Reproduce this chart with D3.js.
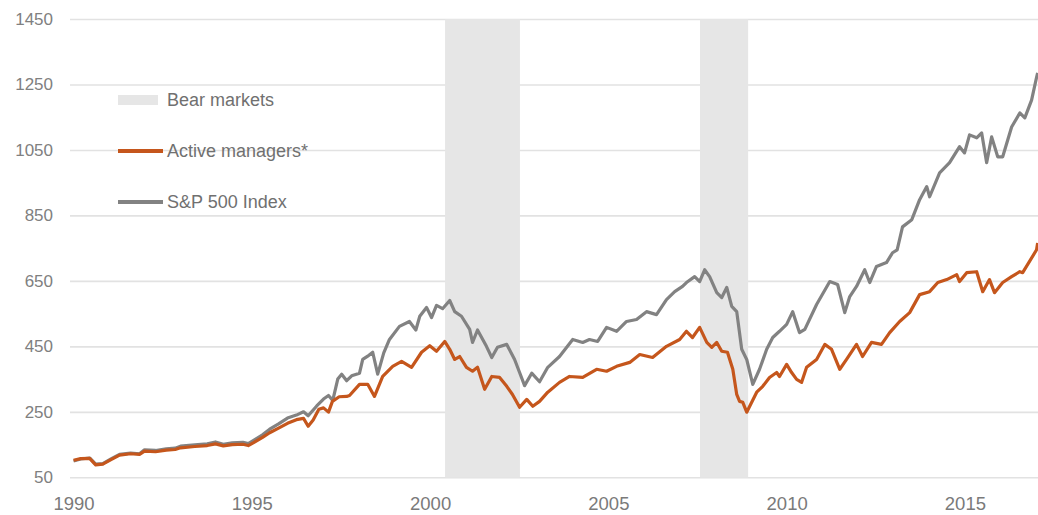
<!DOCTYPE html>
<html>
<head>
    <meta charset="utf-8">
    <title>Active managers vs S&amp;P 500</title>
    <script src="https://d3js.org/d3.v7.min.js"></script>
    <style>
        body { margin: 0; background: #fff; }
        #chart text { font-family: "Liberation Sans", Arial, sans-serif; }
        .grid line { stroke: #e2e2e2; stroke-width: 1.6; }
        .grid text { fill: #808080; font-size: 17px; }
        .xaxis text { fill: #7a7a7a; font-size: 18.5px; }
        .legend text { fill: #707070; font-size: 18px; }
    </style>
</head>
<body>
    <div id="chart"></div>

    <script>
        // Chart data
        const yTicks = [50, 250, 450, 650, 850, 1050, 1250, 1450];
        const xTicks = [1990, 1995, 2000, 2005, 2010, 2015];
        const bearMarkets = [[2000.42, 2002.52], [2007.57, 2008.92]];
        const legendLabels = ["Bear markets", "Active managers*", "S&P 500 Index"];

        // [decimal year, value]
        const sp500 = [
            [1990.00,100],[1990.20,106],[1990.45,109],[1990.62,90],[1990.82,92],[1991.05,106],[1991.29,120],
            [1991.60,124],[1991.85,122],[1991.99,134],[1992.30,132],[1992.60,137],[1992.85,139],[1993.00,145],
            [1993.40,149],[1993.75,152],[1993.98,158],[1994.20,151],[1994.45,155],[1994.75,157],[1994.90,153],
            [1995.05,163],[1995.30,180],[1995.50,197],[1995.75,213],[1996.00,231],[1996.25,240],[1996.45,250],
            [1996.58,238],[1996.82,268],[1997.01,289],[1997.15,300],[1997.27,285],[1997.41,350],[1997.52,365],
            [1997.66,345],[1997.80,360],[1998.02,368],[1998.11,410],[1998.25,420],[1998.39,432],[1998.53,365],
            [1998.70,430],[1998.86,471],[1999.14,511],[1999.42,526],[1999.60,500],[1999.71,542],[1999.90,569],
            [2000.04,538],[2000.18,575],[2000.35,565],[2000.55,590],[2000.69,556],[2000.88,542],[2001.11,502],
            [2001.19,462],[2001.33,500],[2001.58,450],[2001.73,416],[2001.89,447],[2002.15,456],[2002.37,410],
            [2002.51,370],[2002.65,330],[2002.85,368],[2003.07,342],[2003.30,386],[2003.63,419],[2004.00,471],
            [2004.28,462],[2004.47,471],[2004.70,465],[2004.95,508],[2005.23,496],[2005.51,526],[2005.79,532],
            [2006.07,556],[2006.35,547],[2006.63,593],[2006.86,617],[2007.08,633],[2007.19,645],[2007.42,663],
            [2007.56,648],[2007.70,684],[2007.84,663],[2008.04,614],[2008.18,599],[2008.32,630],[2008.46,572],
            [2008.60,556],[2008.74,441],[2008.88,410],[2009.05,334],[2009.24,380],[2009.44,441],[2009.61,477],
            [2009.80,496],[2010.00,517],[2010.17,556],[2010.36,492],[2010.51,502],[2010.84,578],[2011.21,648],
            [2011.43,639],[2011.63,553],[2011.77,602],[2011.96,633],[2012.19,684],[2012.33,645],[2012.52,694],
            [2012.80,706],[2012.97,736],[2013.10,745],[2013.25,815],[2013.51,837],[2013.73,898],[2013.93,938],
            [2014.01,907],[2014.29,980],[2014.57,1011],[2014.85,1060],[2014.99,1041],[2015.13,1096],[2015.33,1087],
            [2015.47,1102],[2015.61,1011],[2015.75,1090],[2015.92,1029],[2016.06,1029],[2016.31,1120],[2016.54,1163],
            [2016.68,1148],[2016.87,1202],[2017.01,1272],[2017.04,1285]
        ];

        const activeManagers = [
            [1990.00,102],[1990.20,107],[1990.45,108],[1990.62,88],[1990.82,90],[1991.05,104],[1991.29,118],
            [1991.60,122],[1991.85,120],[1991.99,130],[1992.30,128],[1992.60,133],[1992.85,135],[1993.00,140],
            [1993.40,144],[1993.75,147],[1993.98,152],[1994.20,146],[1994.45,150],[1994.75,151],[1994.90,147],
            [1995.05,156],[1995.30,172],[1995.50,186],[1995.75,200],[1996.00,215],[1996.25,226],[1996.45,230],
            [1996.58,206],[1996.72,225],[1996.88,258],[1997.01,262],[1997.15,249],[1997.26,282],[1997.45,296],
            [1997.66,297],[1997.74,300],[1998.02,334],[1998.25,334],[1998.44,297],[1998.67,358],[1998.95,389],
            [1999.20,404],[1999.48,386],[1999.76,432],[1999.99,452],[2000.18,435],[2000.41,465],[2000.55,441],
            [2000.69,410],[2000.83,419],[2001.02,386],[2001.19,374],[2001.33,386],[2001.53,319],[2001.73,358],
            [2001.95,355],[2002.15,328],[2002.31,303],[2002.51,264],[2002.71,288],[2002.88,267],[2003.07,282],
            [2003.30,310],[2003.63,340],[2003.91,358],[2004.28,355],[2004.67,380],[2004.95,374],[2005.23,389],
            [2005.60,401],[2005.88,425],[2006.24,416],[2006.63,450],[2007.00,471],[2007.19,496],[2007.36,477],
            [2007.56,508],[2007.76,462],[2007.90,447],[2008.04,462],[2008.18,435],[2008.34,432],[2008.49,380],
            [2008.60,303],[2008.68,282],[2008.77,279],[2008.88,249],[2009.02,279],[2009.16,310],[2009.33,328],
            [2009.52,355],[2009.72,370],[2009.80,358],[2010.00,395],[2010.14,370],[2010.28,349],[2010.42,340],
            [2010.56,386],[2010.84,410],[2011.07,456],[2011.26,441],[2011.49,380],[2011.68,410],[2011.96,456],
            [2012.13,419],[2012.38,462],[2012.66,456],[2012.89,492],[2013.17,526],[2013.45,553],[2013.73,608],
            [2014.01,617],[2014.24,645],[2014.49,654],[2014.77,669],[2014.85,648],[2015.05,675],[2015.33,678],
            [2015.50,617],[2015.69,654],[2015.83,614],[2016.06,645],[2016.31,663],[2016.54,678],[2016.62,675],
            [2017.01,745],[2017.04,766]
        ];

        // Set up dimensions
        const width = 1038;
        const height = 515;
        const margin = { top: 19, right: 0, bottom: 37, left: 70 };
        const innerW = width - margin.left - margin.right;

        const svg = d3.select("#chart")
            .append("svg")
            .attr("width", width)
            .attr("height", height);

        const x = d3.scaleLinear()
            .domain([1989.9, 2017.05])
            .range([margin.left, width - margin.right]);

        const y = d3.scaleLinear()
            .domain([50, 1450])
            .range([height - margin.bottom - 0.7, margin.top]);

        // Gridlines + y labels
        svg.append("g")
            .attr("class", "grid")
            .attr("transform", `translate(${margin.left},0)`)
            .call(d3.axisLeft(y).tickValues(yTicks).tickSize(-innerW).tickPadding(17).tickFormat(d3.format("d")))
            .call(g => g.select(".domain").remove());

        // Bear market shading
        svg.append("g")
            .selectAll("rect")
            .data(bearMarkets)
            .enter()
            .append("rect")
            .attr("x", d => x(d[0]))
            .attr("width", d => x(d[1]) - x(d[0]))
            .attr("y", y(1450))
            .attr("height", y(50) - y(1450))
            .style("fill", "#e6e6e6");

        // X labels
        svg.append("g")
            .attr("class", "xaxis")
            .attr("transform", `translate(0,${y(50)})`)
            .call(d3.axisBottom(x).tickValues(xTicks).tickSize(0).tickPadding(20).tickFormat(d3.format("d")))
            .call(g => g.select(".domain").remove());

        const line = d3.line()
            .x(d => x(d[0]))
            .y(d => y(d[1]));

        svg.append("path")
            .datum(sp500)
            .attr("d", line)
            .style("fill", "none")
            .style("stroke", "#828282")
            .style("stroke-width", 3.2)
            .style("stroke-linejoin", "round");

        svg.append("path")
            .datum(activeManagers)
            .attr("d", line)
            .style("fill", "none")
            .style("stroke", "#c5561c")
            .style("stroke-width", 3.2)
            .style("stroke-linejoin", "round");

        // Legend
        const legend = svg.append("g").attr("class", "legend");
        const legendY = [100, 151, 202];

        legend.append("rect")
            .attr("x", 118).attr("y", legendY[0] - 5)
            .attr("width", 40).attr("height", 10)
            .style("fill", "#e6e6e6");

        legend.append("line")
            .attr("x1", 118).attr("x2", 163)
            .attr("y1", legendY[1]).attr("y2", legendY[1])
            .style("stroke", "#c5561c").style("stroke-width", 4);

        legend.append("line")
            .attr("x1", 118).attr("x2", 163)
            .attr("y1", legendY[2]).attr("y2", legendY[2])
            .style("stroke", "#828282").style("stroke-width", 4);

        legend.selectAll("text")
            .data(legendLabels)
            .enter()
            .append("text")
            .attr("x", 167)
            .attr("y", (d, i) => legendY[i])
            .attr("dy", "0.35em")
            .text(d => d);
    </script>
</body>
</html>
